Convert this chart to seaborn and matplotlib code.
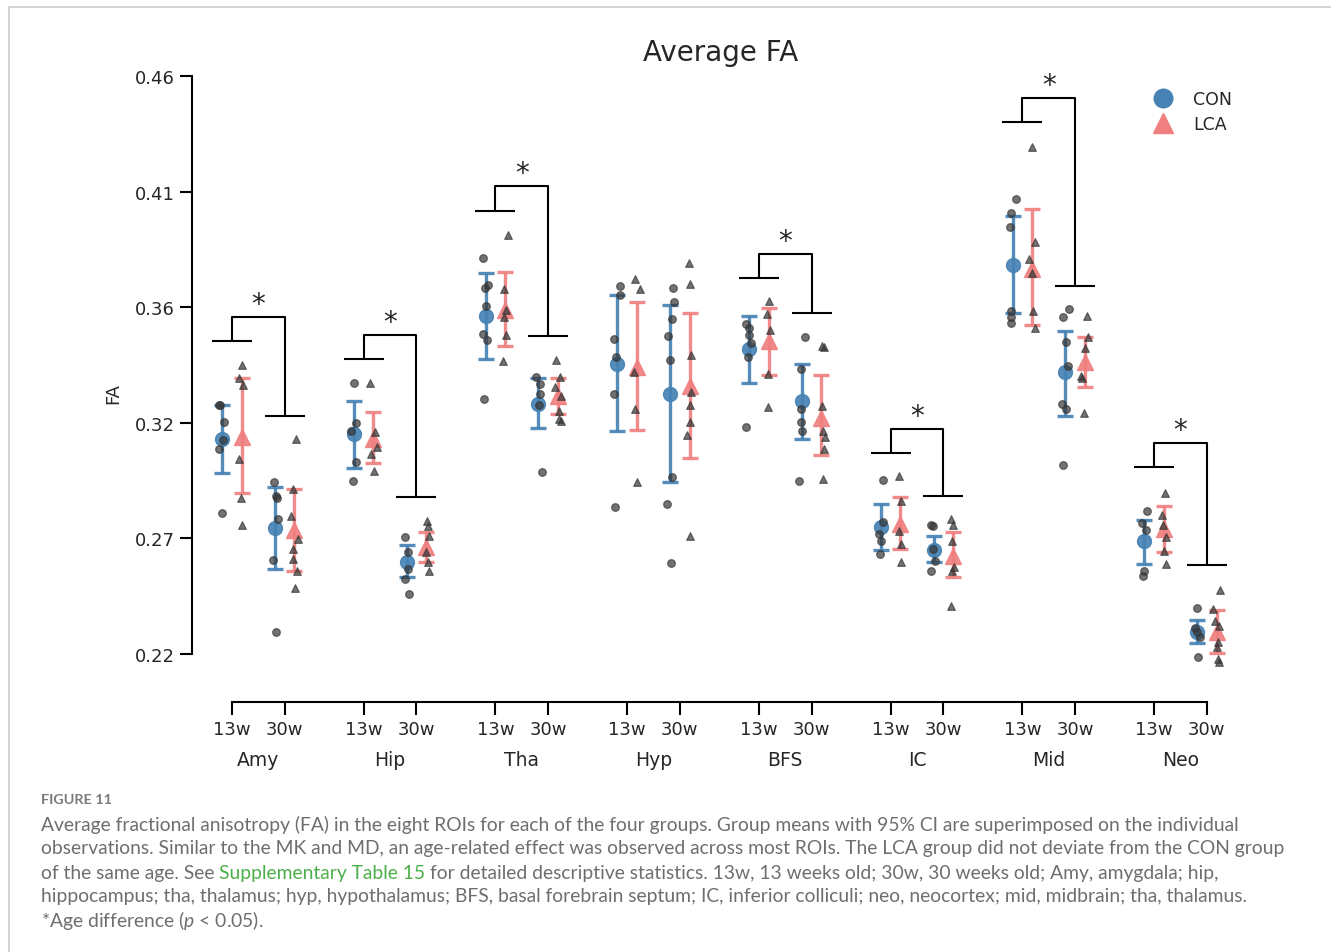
import numpy as np
import pandas as pd
import matplotlib
matplotlib.use("Agg")
import matplotlib.pyplot as plt
import seaborn as sns
from matplotlib.lines import Line2D
from matplotlib.ticker import FormatStrFormatter

# ---------------- data ----------------
rois = ["Amy", "Hip", "Tha", "Hyp", "BFS", "IC", "Mid", "Neo"]
ages = ["13w", "30w"]
groups = ["CON", "LCA"]

# individual observations
amy_con_13 = [0.3232, 0.3232, 0.3163, 0.3087, 0.3052, 0.2786]
amy_lca_13 = [0.3401, 0.3346, 0.3315, 0.3008, 0.2847, 0.2736]
amy_con_30 = [0.2914, 0.2858, 0.2847, 0.2761, 0.2592, 0.2290]
amy_lca_30 = [0.3091, 0.2886, 0.2775, 0.2678, 0.2636, 0.2595, 0.2546, 0.2473]
hip_con_13 = [0.3326, 0.3160, 0.3125, 0.2997, 0.2920]
hip_lca_13 = [0.3326, 0.3121, 0.3060, 0.3030, 0.2962]
hip_con_30 = [0.2685, 0.2623, 0.2553, 0.2512, 0.2449]
hip_lca_30 = [0.2754, 0.2731, 0.2692, 0.2623, 0.2581, 0.2546]
tha_con_13 = [0.3846, 0.3731, 0.3720, 0.3644, 0.3530, 0.3502, 0.3257]
tha_lca_13 = [0.3941, 0.3717, 0.3627, 0.3599, 0.3526, 0.3418]
tha_con_30 = [0.3350, 0.3322, 0.3281, 0.3232, 0.2955]
tha_lca_30 = [0.3422, 0.3350, 0.3308, 0.3271, 0.3211, 0.3177, 0.3166]
hyp_con_13 = [0.3728, 0.3692, 0.3508, 0.3433, 0.3279, 0.2810]
hyp_lca_13 = [0.3756, 0.3714, 0.3371, 0.3218, 0.2916]
hyp_con_30 = [0.3720, 0.3662, 0.3590, 0.3521, 0.3422, 0.2934, 0.2821, 0.2577]
hyp_lca_30 = [0.3825, 0.3735, 0.3440, 0.3288, 0.3232, 0.3163, 0.3110, 0.2689]
bfs_con_13 = [0.3572, 0.3554, 0.3526, 0.3490, 0.3433, 0.3142]
bfs_lca_13 = [0.3664, 0.3613, 0.3544, 0.3364, 0.3225]
bfs_con_30 = [0.3516, 0.3385, 0.3218, 0.3163, 0.3128, 0.2918]
bfs_lca_30 = [0.3479, 0.3475, 0.3229, 0.3128, 0.3101, 0.3052, 0.2925]
ic_con_13 = [0.2923, 0.2747, 0.2700, 0.2671, 0.2616]
ic_lca_13 = [0.2939, 0.2837, 0.2712, 0.2657, 0.2584]
ic_con_30 = [0.2736, 0.2731, 0.2636, 0.2588, 0.2546]
ic_lca_30 = [0.2761, 0.2736, 0.2671, 0.2560, 0.2546, 0.2401]
mid_con_13 = [0.4091, 0.4030, 0.3972, 0.3626, 0.3600, 0.3576]
mid_lca_13 = [0.4307, 0.3911, 0.3840, 0.3782, 0.3626, 0.3552]
mid_con_30 = [0.3631, 0.3601, 0.3494, 0.3395, 0.3238, 0.3217, 0.2986]
mid_lca_30 = [0.3604, 0.3518, 0.3472, 0.3353, 0.3345, 0.3202]
neo_con_13 = [0.2793, 0.2743, 0.2714, 0.2545, 0.2525]
neo_lca_13 = [0.2867, 0.2776, 0.2735, 0.2685, 0.2628, 0.2575]
neo_con_30 = [0.2391, 0.2310, 0.2290, 0.2270, 0.2186]
neo_lca_30 = [0.2467, 0.2387, 0.2338, 0.2318, 0.2249, 0.2228, 0.2179, 0.2168]

# group means with 95% CI (per ROI)
con_13_mean = [0.3094, 0.3112, 0.3603, 0.3405, 0.3468, 0.2727, 0.3816, 0.2669]
con_13_lo   = [0.2952, 0.2973, 0.3426, 0.3124, 0.3325, 0.2634, 0.3617, 0.2575]
con_13_hi   = [0.3235, 0.3252, 0.3782, 0.3692, 0.3604, 0.2823, 0.4017, 0.2757]
lca_13_mean = [0.3101, 0.3094, 0.3627, 0.3392, 0.3498, 0.2740, 0.3799, 0.2719]
lca_13_lo   = [0.2869, 0.2994, 0.3481, 0.3132, 0.3357, 0.2636, 0.3565, 0.2624]
lca_13_hi   = [0.3348, 0.3207, 0.3786, 0.3662, 0.3637, 0.2851, 0.4046, 0.2813]
con_30_mean = [0.2722, 0.2584, 0.3239, 0.3281, 0.3250, 0.2634, 0.3370, 0.2293]
con_30_lo   = [0.2553, 0.2519, 0.3139, 0.2916, 0.3091, 0.2581, 0.3189, 0.2246]
con_30_hi   = [0.2894, 0.2653, 0.3346, 0.3648, 0.3405, 0.2689, 0.3543, 0.2341]
lca_30_mean = [0.2713, 0.2643, 0.3271, 0.3311, 0.3180, 0.2609, 0.3411, 0.2290]
lca_30_lo   = [0.2546, 0.2581, 0.3198, 0.3015, 0.3027, 0.2521, 0.3307, 0.2203]
lca_30_hi   = [0.2886, 0.2708, 0.3346, 0.3616, 0.3357, 0.2706, 0.3518, 0.2384]

# significance brackets (age difference); None = no bracket
bracket_13 = [0.3500, 0.3425, 0.4040, None, 0.3761, 0.3035, 0.4409, 0.2977]
bracket_top = [0.3599, 0.3525, 0.4143, None, 0.3861, 0.3134, 0.4509, 0.3076]
bracket_30 = [0.3188, 0.2852, 0.3521, None, 0.3616, 0.2856, 0.3728, 0.2570]

yticks = [0.22, 0.268, 0.316, 0.364, 0.412, 0.46]

# ---------------- assemble ----------------
obs = {
    ("Amy", "13w", "CON"): amy_con_13, ("Amy", "13w", "LCA"): amy_lca_13,
    ("Amy", "30w", "CON"): amy_con_30, ("Amy", "30w", "LCA"): amy_lca_30,
    ("Hip", "13w", "CON"): hip_con_13, ("Hip", "13w", "LCA"): hip_lca_13,
    ("Hip", "30w", "CON"): hip_con_30, ("Hip", "30w", "LCA"): hip_lca_30,
    ("Tha", "13w", "CON"): tha_con_13, ("Tha", "13w", "LCA"): tha_lca_13,
    ("Tha", "30w", "CON"): tha_con_30, ("Tha", "30w", "LCA"): tha_lca_30,
    ("Hyp", "13w", "CON"): hyp_con_13, ("Hyp", "13w", "LCA"): hyp_lca_13,
    ("Hyp", "30w", "CON"): hyp_con_30, ("Hyp", "30w", "LCA"): hyp_lca_30,
    ("BFS", "13w", "CON"): bfs_con_13, ("BFS", "13w", "LCA"): bfs_lca_13,
    ("BFS", "30w", "CON"): bfs_con_30, ("BFS", "30w", "LCA"): bfs_lca_30,
    ("IC", "13w", "CON"): ic_con_13, ("IC", "13w", "LCA"): ic_lca_13,
    ("IC", "30w", "CON"): ic_con_30, ("IC", "30w", "LCA"): ic_lca_30,
    ("Mid", "13w", "CON"): mid_con_13, ("Mid", "13w", "LCA"): mid_lca_13,
    ("Mid", "30w", "CON"): mid_con_30, ("Mid", "30w", "LCA"): mid_lca_30,
    ("Neo", "13w", "CON"): neo_con_13, ("Neo", "13w", "LCA"): neo_lca_13,
    ("Neo", "30w", "CON"): neo_con_30, ("Neo", "30w", "LCA"): neo_lca_30,
}

ROI_STEP = 2.5
DODGE = {"CON": -0.185, "LCA": 0.185}
rng = np.random.default_rng(3)

rows = []
for (roi, age, grp), vals in obs.items():
    base = rois.index(roi) * ROI_STEP + ages.index(age) + DODGE[grp]
    jit = rng.uniform(-0.07, 0.07, len(vals))
    for v, j in zip(vals, jit):
        rows.append({"roi": roi, "age": age, "group": grp, "FA": v, "x": base + j})
df = pd.DataFrame(rows)

# ---------------- style ----------------
sns.set_style("ticks")
plt.rcParams["font.family"] = ["DejaVu Sans"]
plt.rcParams["mathtext.fontset"] = "custom"
plt.rcParams["mathtext.it"] = "Lato:italic"
plt.rcParams["mathtext.rm"] = "Lato"

BLUE = "#4682B4"
PINK = "#F08080"
GREY = "#363636"

fig = plt.figure(figsize=(13.31, 9.53), dpi=100)
ax = fig.add_axes([0.14425, 0.26212, 0.79414, 0.66338])

# means with CI
series = [
    ("CON", 0, con_13_mean, con_13_lo, con_13_hi),
    ("LCA", 0, lca_13_mean, lca_13_lo, lca_13_hi),
    ("CON", 1, con_30_mean, con_30_lo, con_30_hi),
    ("LCA", 1, lca_30_mean, lca_30_lo, lca_30_hi),
]
for grp, ai, m, lo, hi in series:
    m = np.array(m); lo = np.array(lo); hi = np.array(hi)
    xs = np.arange(len(rois)) * ROI_STEP + ai + DODGE[grp]
    ax.errorbar(xs, m, yerr=[m - lo, hi - m],
                fmt="o" if grp == "CON" else "^",
                color=BLUE if grp == "CON" else PINK,
                ms=10 if grp == "CON" else 11,
                elinewidth=2.4, capsize=6, capthick=2.4, alpha=0.92, zorder=3)

# individual observations
for grp, mk in [("CON", "o"), ("LCA", "^")]:
    sns.scatterplot(data=df[df.group == grp], x="x", y="FA", marker=mk,
                    color=GREY, edgecolor=GREY, linewidth=0.9, s=30,
                    alpha=0.7, ax=ax, zorder=4, legend=False)

# brackets
for i, roi in enumerate(rois):
    if bracket_13[i] is None:
        continue
    x0 = i * ROI_STEP
    x1 = x0 + 1
    l, t, r = bracket_13[i], bracket_top[i], bracket_30[i]
    kw = dict(color="black", lw=1.5, solid_capstyle="butt", zorder=2)
    ax.plot([x0 - 0.38, x0 + 0.38], [l, l], **kw)
    ax.plot([x0, x0, x1, x1], [l, t, t, r], **kw)
    ax.plot([x1 - 0.38, x1 + 0.38], [r, r], **kw)
    ax.annotate("*", xy=((x0 + x1) / 2, t), xytext=(0, 3.5),
                textcoords="offset points", ha="center", va="baseline",
                fontsize=20)

# axes
ax.set_xlim(-0.759, 19.3)
ax.set_ylim(0.20, 0.4625)
xt = [i * ROI_STEP + a for i in range(len(rois)) for a in range(2)]
ax.set_xticks(xt)
ax.set_xticklabels(ages * len(rois))
ax.set_yticks(yticks)
ax.yaxis.set_major_formatter(FormatStrFormatter("%.2f"))
ax.tick_params(axis="both", length=9, width=1.5, labelsize=13, color="black")
for s in ["top", "right"]:
    ax.spines[s].set_visible(False)
for s in ["left", "bottom"]:
    ax.spines[s].set_linewidth(1.5)
    ax.spines[s].set_color("black")
ax.spines["left"].set_bounds(yticks[0], yticks[-1])
ax.spines["bottom"].set_bounds(xt[0], xt[-1])
ax.set_xlabel("")
ax.set_ylabel("FA", fontsize=13)
ax.yaxis.set_label_coords(-0.066, 0.49)
ax.set_title("Average FA", fontsize=20, pad=7)

for i, roi in enumerate(rois):
    ax.annotate(roi, xy=(i * ROI_STEP + 0.5, 0), xycoords=("data", "axes fraction"),
                xytext=(0, -41), textcoords="offset points",
                ha="center", va="center", fontsize=13.5)

handles = [Line2D([], [], marker="o", color=BLUE, ls="none", ms=13.4),
           Line2D([], [], marker="^", color=PINK, ls="none", ms=14.5)]
ax.legend(handles, groups, loc="upper left", bbox_to_anchor=(0.8874, 0.9925),
          frameon=False, fontsize=12.5, handletextpad=0.75, labelspacing=0.4)

# ---------------- caption ----------------
W, H = 1331, 953
CAP = "#6e6e6e"
CFONT = "Lato"
x0 = 41 / W
renderer = fig.canvas.get_renderer()

lines = [
    "Average fractional anisotropy (FA) in the eight ROIs for each of the four groups. Group means with 95% CI are superimposed on the individual",
    "observations. Similar to the MK and MD, an age-related effect was observed across most ROIs. The LCA group did not deviate from the CON group",
    None,
    "hippocampus; tha, thalamus; hyp, hypothalamus; BFS, basal forebrain septum; IC, inferior colliculi; neo, neocortex; mid, midbrain; tha, thalamus.",
    "*Age difference ($p$ < 0.05).",
]
# fit caption size so the first two lines span the caption width of the page
tot = 0.0
for s in lines[:2]:
    probe = fig.text(0, 0, s, fontsize=12, family=CFONT)
    tot += probe.get_window_extent(renderer).width
    probe.remove()
CSIZE = 0.9965 * 12 * ((1241 - 41) + (1288 - 41)) / tot

fig.text(x0, 1 - 800 / H, "FIGURE 11", fontsize=10.4, fontweight="bold",
         color="#7a7a7a", family=CFONT, va="center")
ys = [825, 849, 873, 897, 921]
for s, y in zip(lines, ys):
    if s is not None:
        fig.text(x0, 1 - y / H, s, fontsize=CSIZE, color=CAP, family=CFONT, va="center")

y3 = 1 - ys[2] / H
tA = fig.text(x0, y3, "of the same age. See", fontsize=CSIZE, color=CAP, family=CFONT, va="center")
probe1 = fig.text(0, 0, "a a", fontsize=CSIZE, family=CFONT)
probe2 = fig.text(0, 0, "aa", fontsize=CSIZE, family=CFONT)
sp = (probe1.get_window_extent(renderer).width - probe2.get_window_extent(renderer).width) / W
probe1.remove(); probe2.remove()
xa = tA.get_window_extent(renderer).x1 / W + sp
tB = fig.text(xa, y3, "Supplementary Table 15", fontsize=CSIZE, color="#4daf4a",
              family=CFONT, va="center")
xb = tB.get_window_extent(renderer).x1 / W + sp
fig.text(xb, y3, "for detailed descriptive statistics. 13w, 13 weeks old; 30w, 30 weeks old; Amy, amygdala; hip,",
         fontsize=CSIZE, color=CAP, family=CFONT, va="center")

# page frame
fig.add_artist(Line2D([9 / W, 1.0], [1 - 8 / H, 1 - 8 / H], transform=fig.transFigure,
                      color="#cfcfcf", lw=1.3))
fig.add_artist(Line2D([9 / W, 9 / W], [0.0, 1 - 8 / H], transform=fig.transFigure,
                      color="#cfcfcf", lw=1.3))

fig.savefig("out.png", dpi=100)
